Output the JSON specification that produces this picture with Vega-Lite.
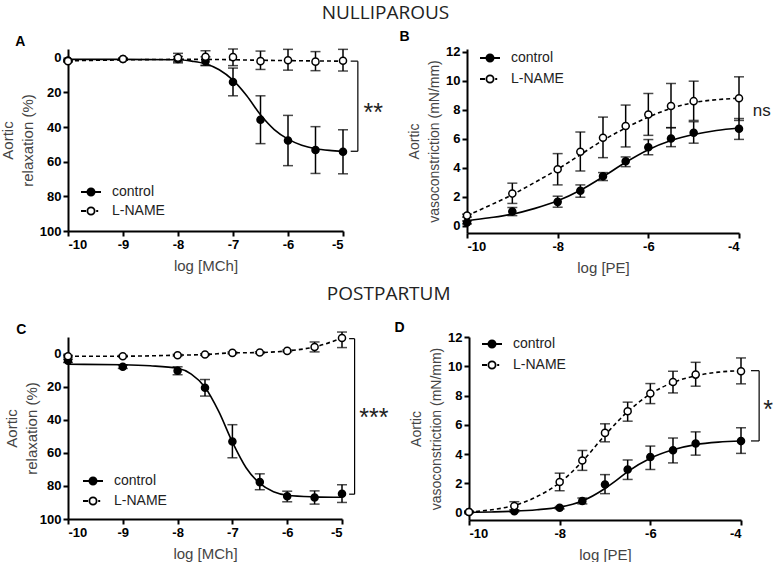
{
"$schema": "https://vega.github.io/schema/vega-lite/v6.json",
"background": "white",
"padding": {"left": 0, "top": 3, "right": 0, "bottom": 0},
"spacing": 10,
"resolve": {"scale": {"fill": "independent"}, "legend": {"fill": "independent"}},
"config": {
  "view": {"stroke": null},
  "font": "Liberation Sans",
  "axis": {"grid": false, "domainColor": "black", "domainWidth": 2, "tickColor": "black", "tickWidth": 2, "tickSize": 5, "labelFont": "Liberation Sans", "labelFontWeight": "bold", "labelFontSize": 13, "labelColor": "black", "labelPadding": 2, "titleFont": "Liberation Sans", "titleFontWeight": "normal", "titleFontSize": 15, "titleColor": "#444"},
  "axisX": {"titlePadding": 7},
  "axisY": {"titlePadding": 4, "titleLineHeight": 20}
},
"datasets": {
  "ptsA": [
    {"x": -10, "y": 1.7, "lo": 1.2, "hi": 2.2, "group": "control"},
    {"x": -9, "y": 0.8, "lo": 0.3, "hi": 1.3, "group": "control"},
    {"x": -8, "y": 0.8, "lo": -0.7, "hi": 2.3, "group": "control"},
    {"x": -7.5, "y": 2, "lo": -0.5, "hi": 4.5, "group": "control"},
    {"x": -7, "y": 14, "lo": 6, "hi": 22, "group": "control"},
    {"x": -6.5, "y": 35.8, "lo": 22, "hi": 49.6, "group": "control"},
    {"x": -6, "y": 47.8, "lo": 33.3, "hi": 62.3, "group": "control"},
    {"x": -5.5, "y": 53.3, "lo": 39.8, "hi": 66.8, "group": "control"},
    {"x": -5, "y": 54.3, "lo": 41.6, "hi": 67, "group": "control"},
    {"x": -10, "y": 2, "lo": 1.5, "hi": 2.5, "group": "L-NAME"},
    {"x": -9, "y": 0.8, "lo": 0.3, "hi": 1.3, "group": "L-NAME"},
    {"x": -8, "y": 0, "lo": -2.5, "hi": 3, "group": "L-NAME"},
    {"x": -7.5, "y": -0.5, "lo": -4, "hi": 4.5, "group": "L-NAME"},
    {"x": -7, "y": -0.3, "lo": -5, "hi": 4.6, "group": "L-NAME"},
    {"x": -6.5, "y": 2, "lo": -3.8, "hi": 6.8, "group": "L-NAME"},
    {"x": -6, "y": 1.5, "lo": -4.8, "hi": 7.2, "group": "L-NAME"},
    {"x": -5.5, "y": 2.3, "lo": -3.5, "hi": 7.5, "group": "L-NAME"},
    {"x": -5, "y": 1.8, "lo": -4.8, "hi": 7.7, "group": "L-NAME"}
  ],
  "fitA": [
    {"x": -10, "y": 1, "group": "control"},
    {"x": -9, "y": 1, "group": "control"},
    {"x": -8, "y": 1.2, "group": "control"},
    {"x": -7.75, "y": 2, "group": "control"},
    {"x": -7.5, "y": 3.5, "group": "control"},
    {"x": -7.25, "y": 7, "group": "control"},
    {"x": -7, "y": 13, "group": "control"},
    {"x": -6.75, "y": 22, "group": "control"},
    {"x": -6.5, "y": 33, "group": "control"},
    {"x": -6.25, "y": 41.5, "group": "control"},
    {"x": -6, "y": 47, "group": "control"},
    {"x": -5.75, "y": 50.5, "group": "control"},
    {"x": -5.5, "y": 52.5, "group": "control"},
    {"x": -5.25, "y": 53.5, "group": "control"},
    {"x": -5, "y": 54, "group": "control"},
    {"x": -10, "y": 1.8, "group": "L-NAME"},
    {"x": -9, "y": 1.3, "group": "L-NAME"},
    {"x": -8, "y": 1.0, "group": "L-NAME"},
    {"x": -7.5, "y": 1.0, "group": "L-NAME"},
    {"x": -7, "y": 1.2, "group": "L-NAME"},
    {"x": -6.5, "y": 1.5, "group": "L-NAME"},
    {"x": -6, "y": 1.7, "group": "L-NAME"},
    {"x": -5.5, "y": 1.9, "group": "L-NAME"},
    {"x": -5, "y": 2.0, "group": "L-NAME"}
  ],
  "brA": [
    {"x": -4.86, "x2": -4.73, "y": 2, "y2": 2},
    {"x": -4.73, "x2": -4.73, "y": 2, "y2": 54},
    {"x": -4.86, "x2": -4.73, "y": 54, "y2": 54}
  ],
  "txtA": [{"x": -4.45, "y": 32, "t": "**"}],
  "ptsB": [
    {"x": -10, "y": 0.23, "lo": 0.13, "hi": 0.33, "group": "control"},
    {"x": -9, "y": 0.98, "lo": 0.7, "hi": 1.26, "group": "control"},
    {"x": -8, "y": 1.65, "lo": 1.28, "hi": 2.04, "group": "control"},
    {"x": -7.5, "y": 2.42, "lo": 1.97, "hi": 2.82, "group": "control"},
    {"x": -7, "y": 3.42, "lo": 3.12, "hi": 3.67, "group": "control"},
    {"x": -6.5, "y": 4.45, "lo": 4.08, "hi": 4.75, "group": "control"},
    {"x": -6, "y": 5.42, "lo": 4.9, "hi": 5.95, "group": "control"},
    {"x": -5.5, "y": 6.02, "lo": 5.46, "hi": 6.77, "group": "control"},
    {"x": -5, "y": 6.42, "lo": 5.7, "hi": 7.18, "group": "control"},
    {"x": -4, "y": 6.7, "lo": 5.96, "hi": 7.4, "group": "control"},
    {"x": -10, "y": 0.7, "lo": 0.6, "hi": 0.8, "group": "L-NAME"},
    {"x": -9, "y": 2.22, "lo": 1.54, "hi": 2.94, "group": "L-NAME"},
    {"x": -8, "y": 3.9, "lo": 2.82, "hi": 4.98, "group": "L-NAME"},
    {"x": -7.5, "y": 5.11, "lo": 3.78, "hi": 6.47, "group": "L-NAME"},
    {"x": -7, "y": 6.08, "lo": 4.7, "hi": 7.5, "group": "L-NAME"},
    {"x": -6.5, "y": 6.88, "lo": 5.44, "hi": 8.33, "group": "L-NAME"},
    {"x": -6, "y": 7.68, "lo": 6.24, "hi": 9.13, "group": "L-NAME"},
    {"x": -5.5, "y": 8.26, "lo": 6.77, "hi": 9.82, "group": "L-NAME"},
    {"x": -5, "y": 8.6, "lo": 7.27, "hi": 9.98, "group": "L-NAME"},
    {"x": -4, "y": 8.8, "lo": 7.27, "hi": 10.28, "group": "L-NAME"}
  ],
  "fitB": [
    {"x": -10, "y": 0.35, "group": "control"},
    {"x": -9.5, "y": 0.55, "group": "control"},
    {"x": -9, "y": 0.8, "group": "control"},
    {"x": -8.5, "y": 1.2, "group": "control"},
    {"x": -8, "y": 1.72, "group": "control"},
    {"x": -7.5, "y": 2.45, "group": "control"},
    {"x": -7, "y": 3.38, "group": "control"},
    {"x": -6.5, "y": 4.38, "group": "control"},
    {"x": -6, "y": 5.25, "group": "control"},
    {"x": -5.5, "y": 5.88, "group": "control"},
    {"x": -5, "y": 6.3, "group": "control"},
    {"x": -4.5, "y": 6.58, "group": "control"},
    {"x": -4, "y": 6.75, "group": "control"},
    {"x": -10, "y": 0.7, "group": "L-NAME"},
    {"x": -9.5, "y": 1.4, "group": "L-NAME"},
    {"x": -9, "y": 2.15, "group": "L-NAME"},
    {"x": -8.5, "y": 3.0, "group": "L-NAME"},
    {"x": -8, "y": 3.9, "group": "L-NAME"},
    {"x": -7.5, "y": 4.9, "group": "L-NAME"},
    {"x": -7, "y": 5.9, "group": "L-NAME"},
    {"x": -6.5, "y": 6.75, "group": "L-NAME"},
    {"x": -6, "y": 7.5, "group": "L-NAME"},
    {"x": -5.5, "y": 8.1, "group": "L-NAME"},
    {"x": -5, "y": 8.5, "group": "L-NAME"},
    {"x": -4.5, "y": 8.7, "group": "L-NAME"},
    {"x": -4, "y": 8.8, "group": "L-NAME"}
  ],
  "txtB": [{"x": -3.5, "y": 7.9, "t": "ns"}],
  "ptsC": [
    {"x": -10, "y": 4.4, "lo": 3.4, "hi": 5.4, "group": "control"},
    {"x": -9, "y": 8, "lo": 7, "hi": 9, "group": "control"},
    {"x": -8, "y": 10.4, "lo": 8, "hi": 12.8, "group": "control"},
    {"x": -7.5, "y": 20.7, "lo": 15.7, "hi": 25.7, "group": "control"},
    {"x": -7, "y": 53.2, "lo": 43, "hi": 63, "group": "control"},
    {"x": -6.5, "y": 77.7, "lo": 72.7, "hi": 82.3, "group": "control"},
    {"x": -6, "y": 86.3, "lo": 83.2, "hi": 89.6, "group": "control"},
    {"x": -5.5, "y": 87, "lo": 83, "hi": 91, "group": "control"},
    {"x": -5, "y": 84.7, "lo": 79.3, "hi": 90, "group": "control"},
    {"x": -10, "y": 1.6, "lo": 1.1, "hi": 2.1, "group": "L-NAME"},
    {"x": -9, "y": 1.6, "lo": 1.1, "hi": 2.1, "group": "L-NAME"},
    {"x": -8, "y": 1.0, "lo": 0.5, "hi": 1.5, "group": "L-NAME"},
    {"x": -7.5, "y": 0.6, "lo": 0.1, "hi": 1.1, "group": "L-NAME"},
    {"x": -7, "y": -0.4, "lo": -0.9, "hi": 0.1, "group": "L-NAME"},
    {"x": -6.5, "y": -0.6, "lo": -1.1, "hi": -0.1, "group": "L-NAME"},
    {"x": -6, "y": -1.6, "lo": -2.1, "hi": -1.1, "group": "L-NAME"},
    {"x": -5.5, "y": -4, "lo": -7, "hi": -1, "group": "L-NAME"},
    {"x": -5, "y": -9.4, "lo": -13, "hi": -3.6, "group": "L-NAME"}
  ],
  "fitC": [
    {"x": -10, "y": 6.5, "group": "control"},
    {"x": -9, "y": 6.8, "group": "control"},
    {"x": -8.5, "y": 7.4, "group": "control"},
    {"x": -8, "y": 8.9, "group": "control"},
    {"x": -7.75, "y": 12.4, "group": "control"},
    {"x": -7.5, "y": 20.4, "group": "control"},
    {"x": -7.25, "y": 35, "group": "control"},
    {"x": -7, "y": 53.5, "group": "control"},
    {"x": -6.75, "y": 69, "group": "control"},
    {"x": -6.5, "y": 78.5, "group": "control"},
    {"x": -6.25, "y": 83.5, "group": "control"},
    {"x": -6, "y": 85.6, "group": "control"},
    {"x": -5.5, "y": 86.6, "group": "control"},
    {"x": -5, "y": 86.9, "group": "control"},
    {"x": -10, "y": 1.6, "group": "L-NAME"},
    {"x": -9, "y": 1.6, "group": "L-NAME"},
    {"x": -8, "y": 1.0, "group": "L-NAME"},
    {"x": -7.5, "y": 0.6, "group": "L-NAME"},
    {"x": -7, "y": -0.4, "group": "L-NAME"},
    {"x": -6.5, "y": -0.6, "group": "L-NAME"},
    {"x": -6, "y": -1.6, "group": "L-NAME"},
    {"x": -5.5, "y": -4, "group": "L-NAME"},
    {"x": -5, "y": -9.4, "group": "L-NAME"}
  ],
  "brC": [
    {"x": -4.87, "x2": -4.77, "y": -9, "y2": -9},
    {"x": -4.77, "x2": -4.77, "y": -9, "y2": 85},
    {"x": -4.87, "x2": -4.77, "y": 85, "y2": 85}
  ],
  "txtC": [{"x": -4.42, "y": 39, "t": "***"}],
  "ptsD": [
    {"x": -10, "y": 0.05, "lo": 0.0, "hi": 0.1, "group": "control"},
    {"x": -9, "y": 0.1, "lo": 0.05, "hi": 0.15, "group": "control"},
    {"x": -8, "y": 0.34, "lo": 0.26, "hi": 0.42, "group": "control"},
    {"x": -7.5, "y": 0.8, "lo": 0.6, "hi": 1.0, "group": "control"},
    {"x": -7, "y": 1.93, "lo": 1.3, "hi": 2.6, "group": "control"},
    {"x": -6.5, "y": 2.95, "lo": 2.27, "hi": 3.6, "group": "control"},
    {"x": -6, "y": 3.8, "lo": 2.95, "hi": 4.55, "group": "control"},
    {"x": -5.5, "y": 4.27, "lo": 3.4, "hi": 5.1, "group": "control"},
    {"x": -5, "y": 4.73, "lo": 3.93, "hi": 5.52, "group": "control"},
    {"x": -4, "y": 4.89, "lo": 4.05, "hi": 5.8, "group": "control"},
    {"x": -10, "y": 0.05, "lo": 0.0, "hi": 0.1, "group": "L-NAME"},
    {"x": -9, "y": 0.45, "lo": 0.2, "hi": 0.75, "group": "L-NAME"},
    {"x": -8, "y": 2.09, "lo": 1.5, "hi": 2.7, "group": "L-NAME"},
    {"x": -7.5, "y": 3.57, "lo": 2.89, "hi": 4.25, "group": "L-NAME"},
    {"x": -7, "y": 5.45, "lo": 4.84, "hi": 6.07, "group": "L-NAME"},
    {"x": -6.5, "y": 6.93, "lo": 6.25, "hi": 7.55, "group": "L-NAME"},
    {"x": -6, "y": 8.14, "lo": 7.45, "hi": 8.82, "group": "L-NAME"},
    {"x": -5.5, "y": 8.93, "lo": 8.18, "hi": 9.66, "group": "L-NAME"},
    {"x": -5, "y": 9.43, "lo": 8.64, "hi": 10.27, "group": "L-NAME"},
    {"x": -4, "y": 9.66, "lo": 8.8, "hi": 10.57, "group": "L-NAME"}
  ],
  "fitD": [
    {"x": -10, "y": 0.02, "group": "control"},
    {"x": -9.5, "y": 0.05, "group": "control"},
    {"x": -9, "y": 0.1, "group": "control"},
    {"x": -8.5, "y": 0.2, "group": "control"},
    {"x": -8, "y": 0.38, "group": "control"},
    {"x": -7.5, "y": 0.8, "group": "control"},
    {"x": -7, "y": 1.65, "group": "control"},
    {"x": -6.75, "y": 2.2, "group": "control"},
    {"x": -6.5, "y": 2.8, "group": "control"},
    {"x": -6, "y": 3.72, "group": "control"},
    {"x": -5.5, "y": 4.3, "group": "control"},
    {"x": -5, "y": 4.65, "group": "control"},
    {"x": -4.5, "y": 4.82, "group": "control"},
    {"x": -4, "y": 4.9, "group": "control"},
    {"x": -10, "y": 0.05, "group": "L-NAME"},
    {"x": -9.5, "y": 0.2, "group": "L-NAME"},
    {"x": -9, "y": 0.5, "group": "L-NAME"},
    {"x": -8.5, "y": 1.1, "group": "L-NAME"},
    {"x": -8, "y": 2.05, "group": "L-NAME"},
    {"x": -7.5, "y": 3.5, "group": "L-NAME"},
    {"x": -7, "y": 5.3, "group": "L-NAME"},
    {"x": -6.5, "y": 6.9, "group": "L-NAME"},
    {"x": -6, "y": 8.1, "group": "L-NAME"},
    {"x": -5.5, "y": 8.9, "group": "L-NAME"},
    {"x": -5, "y": 9.35, "group": "L-NAME"},
    {"x": -4.5, "y": 9.6, "group": "L-NAME"},
    {"x": -4, "y": 9.7, "group": "L-NAME"}
  ],
  "brD": [
    {"x": -3.78, "x2": -3.6, "y": 9.7, "y2": 9.7},
    {"x": -3.6, "x2": -3.6, "y": 9.7, "y2": 4.9},
    {"x": -3.78, "x2": -3.6, "y": 4.9, "y2": 4.9}
  ],
  "txtD": [{"x": -3.4, "y": 7.0, "t": "*"}]
},
"vconcat": [
  {
    "title": {"text": "NULLIPAROUS", "font": "Open Sans", "fontSize": 19, "fontWeight": "normal", "color": "#222", "anchor": "middle", "offset": 7},
    "spacing": 16,
    "resolve": {"scale": {"fill": "independent"}, "legend": {"fill": "independent"}},
    "hconcat": [
      {
        "title": {"text": "A", "anchor": "start", "frame": "bounds", "fontSize": 14, "fontWeight": "bold", "font": "Liberation Sans", "color": "black", "offset": 2, "dx": 15, "dy": 3},
        "width": 275, "height": 182,
        "encoding": {
          "x": {"field": "x", "type": "quantitative", "scale": {"domain": [-10, -5], "nice": false, "zero": false}, "axis": {"values": [-10, -9, -8, -7, -6, -5], "title": "log [MCh]", "labelExpr": "datum.value + ''"}},
          "y": {"field": "y", "type": "quantitative", "scale": {"domain": [-5, 100], "reverse": true, "nice": false, "zero": false}, "axis": {"values": [0, 20, 40, 60, 80, 100], "title": ["Aortic", "relaxation (%)"], "labelExpr": "datum.value + ''"}}
        },
        "layer": [
          {"data": {"name": "ptsA"}, "mark": {"type": "rule", "color": "black", "strokeWidth": 1.5}, "encoding": {"y": {"field": "lo", "type": "quantitative"}, "y2": {"field": "hi"}}},
          {"data": {"name": "ptsA"}, "mark": {"type": "tick", "orient": "horizontal", "color": "black", "size": 10, "thickness": 1.5}, "encoding": {"y": {"field": "lo", "type": "quantitative"}}},
          {"data": {"name": "ptsA"}, "mark": {"type": "tick", "orient": "horizontal", "color": "black", "size": 10, "thickness": 1.5}, "encoding": {"y": {"field": "hi", "type": "quantitative"}}},
          {"data": {"name": "fitA"}, "transform": [{"filter": "datum.group == 'control'"}], "mark": {"type": "line", "color": "black", "strokeWidth": 1.6, "interpolate": "monotone"}, "encoding": {}},
          {"data": {"name": "fitA"}, "transform": [{"filter": "datum.group == 'L-NAME'"}], "mark": {"type": "line", "color": "black", "strokeWidth": 1.6, "strokeDash": [4, 3], "interpolate": "monotone"}, "encoding": {}},
          {"data": {"name": "ptsA"}, "mark": {"type": "point", "filled": true, "stroke": "black", "strokeWidth": 1.5, "size": 50, "opacity": 1}, "encoding": {"fill": {"field": "group", "type": "nominal", "scale": {"domain": ["control", "L-NAME"], "range": ["black", "white"]}, "legend": {"orient": "none", "legendX": 12, "legendY": 132, "title": null, "symbolSize": 400, "symbolStrokeColor": "black", "symbolStrokeWidth": 1.8, "symbolType": {"expr": "datum.value === 'control' ? 'M-1,0H1M-0.36,0A0.36,0.36 0 1,0 0.36,0A0.36,0.36 0 1,0 -0.36,0Z' : 'M-1,0H-0.5M0.52,0H0.72M-0.36,0A0.36,0.36 0 1,0 0.36,0A0.36,0.36 0 1,0 -0.36,0Z'"}, "labelFont": "Liberation Sans", "labelFontSize": 14, "labelColor": "#222", "labelOffset": 10, "rowPadding": 0, "padding": 0}}}},
          {"data": {"name": "brA"}, "mark": {"type": "rule", "color": "black", "strokeWidth": 1.2}, "encoding": {"x2": {"field": "x2"}, "y2": {"field": "y2"}}},
          {"data": {"name": "txtA"}, "mark": {"type": "text", "fontSize": 25, "font": "Liberation Sans", "align": "center", "baseline": "middle", "color": "#222"}, "encoding": {"text": {"field": "t"}}}
        ]
      },
      {
        "title": {"text": "B", "anchor": "start", "frame": "bounds", "fontSize": 14, "fontWeight": "bold", "font": "Liberation Sans", "color": "black", "offset": 2, "dx": -8},
        "width": 272, "height": 184,
        "encoding": {
          "x": {"field": "x", "type": "quantitative", "scale": {"domain": [-10, -4], "nice": false, "zero": false}, "axis": {"values": [-10, -8, -6, -4], "title": "log [PE]", "labelExpr": "datum.value + ''"}},
          "y": {"field": "y", "type": "quantitative", "scale": {"domain": [-0.5, 12.2], "nice": false, "zero": false}, "axis": {"values": [0, 2, 4, 6, 8, 10, 12], "title": ["Aortic", "vasoconstriction (mN/mm)"], "titleFontSize": 14, "labelExpr": "datum.value + ''"}}
        },
        "layer": [
          {"data": {"name": "ptsB"}, "mark": {"type": "rule", "color": "black", "strokeWidth": 1.5}, "encoding": {"y": {"field": "lo", "type": "quantitative"}, "y2": {"field": "hi"}}},
          {"data": {"name": "ptsB"}, "mark": {"type": "tick", "orient": "horizontal", "color": "black", "size": 10, "thickness": 1.5}, "encoding": {"y": {"field": "lo", "type": "quantitative"}}},
          {"data": {"name": "ptsB"}, "mark": {"type": "tick", "orient": "horizontal", "color": "black", "size": 10, "thickness": 1.5}, "encoding": {"y": {"field": "hi", "type": "quantitative"}}},
          {"data": {"name": "fitB"}, "transform": [{"filter": "datum.group == 'control'"}], "mark": {"type": "line", "color": "black", "strokeWidth": 1.6, "interpolate": "monotone"}, "encoding": {}},
          {"data": {"name": "fitB"}, "transform": [{"filter": "datum.group == 'L-NAME'"}], "mark": {"type": "line", "color": "black", "strokeWidth": 1.6, "strokeDash": [4, 3], "interpolate": "monotone"}, "encoding": {}},
          {"data": {"name": "ptsB"}, "mark": {"type": "point", "filled": true, "stroke": "black", "strokeWidth": 1.5, "size": 50, "opacity": 1}, "encoding": {"fill": {"field": "group", "type": "nominal", "scale": {"domain": ["control", "L-NAME"], "range": ["black", "white"]}, "legend": {"orient": "none", "legendX": 12, "legendY": -2, "title": null, "symbolSize": 400, "symbolStrokeColor": "black", "symbolStrokeWidth": 1.8, "symbolType": {"expr": "datum.value === 'control' ? 'M-1,0H1M-0.36,0A0.36,0.36 0 1,0 0.36,0A0.36,0.36 0 1,0 -0.36,0Z' : 'M-1,0H-0.5M0.52,0H0.72M-0.36,0A0.36,0.36 0 1,0 0.36,0A0.36,0.36 0 1,0 -0.36,0Z'"}, "labelFont": "Liberation Sans", "labelFontSize": 14, "labelColor": "#222", "labelOffset": 10, "rowPadding": 2, "padding": 0}}}},
          {"data": {"name": "txtB"}, "mark": {"type": "text", "fontSize": 17, "font": "Liberation Sans", "align": "center", "baseline": "middle", "color": "#222"}, "encoding": {"text": {"field": "t"}}}
        ]
      }
    ]
  },
  {
    "title": {"text": "POSTPARTUM", "font": "Open Sans", "fontSize": 19, "fontWeight": "normal", "color": "#222", "anchor": "middle", "offset": 17},
    "spacing": 5,
    "resolve": {"scale": {"fill": "independent"}, "legend": {"fill": "independent"}},
    "hconcat": [
      {
        "title": {"text": "C", "anchor": "start", "frame": "bounds", "fontSize": 14, "fontWeight": "bold", "font": "Liberation Sans", "color": "black", "offset": 2, "dx": 12, "dy": 8},
        "width": 274, "height": 182,
        "encoding": {
          "x": {"field": "x", "type": "quantitative", "scale": {"domain": [-10, -5], "nice": false, "zero": false}, "axis": {"values": [-10, -9, -8, -7, -6, -5], "title": "log [MCh]", "labelExpr": "datum.value + ''"}},
          "y": {"field": "y", "type": "quantitative", "scale": {"domain": [-10, 100], "reverse": true, "nice": false, "zero": false}, "axis": {"values": [0, 20, 40, 60, 80, 100], "title": ["Aortic", "relaxation (%)"], "titlePadding": 0, "labelExpr": "datum.value + ''"}}
        },
        "layer": [
          {"data": {"name": "ptsC"}, "mark": {"type": "rule", "color": "black", "strokeWidth": 1.5}, "encoding": {"y": {"field": "lo", "type": "quantitative"}, "y2": {"field": "hi"}}},
          {"data": {"name": "ptsC"}, "mark": {"type": "tick", "orient": "horizontal", "color": "black", "size": 10, "thickness": 1.5}, "encoding": {"y": {"field": "lo", "type": "quantitative"}}},
          {"data": {"name": "ptsC"}, "mark": {"type": "tick", "orient": "horizontal", "color": "black", "size": 10, "thickness": 1.5}, "encoding": {"y": {"field": "hi", "type": "quantitative"}}},
          {"data": {"name": "fitC"}, "transform": [{"filter": "datum.group == 'control'"}], "mark": {"type": "line", "color": "black", "strokeWidth": 1.6, "interpolate": "monotone"}, "encoding": {}},
          {"data": {"name": "fitC"}, "transform": [{"filter": "datum.group == 'L-NAME'"}], "mark": {"type": "line", "color": "black", "strokeWidth": 1.6, "strokeDash": [4, 3], "interpolate": "monotone"}, "encoding": {}},
          {"data": {"name": "ptsC"}, "mark": {"type": "point", "filled": true, "stroke": "black", "strokeWidth": 1.5, "size": 50, "opacity": 1}, "encoding": {"fill": {"field": "group", "type": "nominal", "scale": {"domain": ["control", "L-NAME"], "range": ["black", "white"]}, "legend": {"orient": "none", "legendX": 14, "legendY": 133, "title": null, "symbolSize": 400, "symbolStrokeColor": "black", "symbolStrokeWidth": 1.8, "symbolType": {"expr": "datum.value === 'control' ? 'M-1,0H1M-0.36,0A0.36,0.36 0 1,0 0.36,0A0.36,0.36 0 1,0 -0.36,0Z' : 'M-1,0H-0.5M0.52,0H0.72M-0.36,0A0.36,0.36 0 1,0 0.36,0A0.36,0.36 0 1,0 -0.36,0Z'"}, "labelFont": "Liberation Sans", "labelFontSize": 14, "labelColor": "#222", "labelOffset": 10, "rowPadding": 1, "padding": 0}}}},
          {"data": {"name": "brC"}, "mark": {"type": "rule", "color": "black", "strokeWidth": 1.2}, "encoding": {"x2": {"field": "x2"}, "y2": {"field": "y2"}}},
          {"data": {"name": "txtC"}, "mark": {"type": "text", "fontSize": 25, "font": "Liberation Sans", "align": "center", "baseline": "middle", "color": "#222"}, "encoding": {"text": {"field": "t"}}}
        ]
      },
      {
        "title": {"text": "D", "anchor": "start", "frame": "bounds", "fontSize": 14, "fontWeight": "bold", "font": "Liberation Sans", "color": "black", "offset": 2, "dx": -15, "dy": 6},
        "width": 272, "height": 183,
        "encoding": {
          "x": {"field": "x", "type": "quantitative", "scale": {"domain": [-10, -4], "nice": false, "zero": false}, "axis": {"values": [-10, -8, -6, -4], "title": "log [PE]", "labelExpr": "datum.value + ''"}},
          "y": {"field": "y", "type": "quantitative", "scale": {"domain": [-0.5, 12], "nice": false, "zero": false}, "axis": {"values": [0, 2, 4, 6, 8, 10, 12], "title": ["Aortic", "vasoconstriction (mN/mm)"], "titleFontSize": 14, "labelExpr": "datum.value + ''"}}
        },
        "layer": [
          {"data": {"name": "ptsD"}, "mark": {"type": "rule", "color": "black", "strokeWidth": 1.5}, "encoding": {"y": {"field": "lo", "type": "quantitative"}, "y2": {"field": "hi"}}},
          {"data": {"name": "ptsD"}, "mark": {"type": "tick", "orient": "horizontal", "color": "black", "size": 10, "thickness": 1.5}, "encoding": {"y": {"field": "lo", "type": "quantitative"}}},
          {"data": {"name": "ptsD"}, "mark": {"type": "tick", "orient": "horizontal", "color": "black", "size": 10, "thickness": 1.5}, "encoding": {"y": {"field": "hi", "type": "quantitative"}}},
          {"data": {"name": "fitD"}, "transform": [{"filter": "datum.group == 'control'"}], "mark": {"type": "line", "color": "black", "strokeWidth": 1.6, "interpolate": "monotone"}, "encoding": {}},
          {"data": {"name": "fitD"}, "transform": [{"filter": "datum.group == 'L-NAME'"}], "mark": {"type": "line", "color": "black", "strokeWidth": 1.6, "strokeDash": [4, 3], "interpolate": "monotone"}, "encoding": {}},
          {"data": {"name": "ptsD"}, "mark": {"type": "point", "filled": true, "stroke": "black", "strokeWidth": 1.5, "size": 50, "opacity": 1}, "encoding": {"fill": {"field": "group", "type": "nominal", "scale": {"domain": ["control", "L-NAME"], "range": ["black", "white"]}, "legend": {"orient": "none", "legendX": 12, "legendY": -4, "title": null, "symbolSize": 400, "symbolStrokeColor": "black", "symbolStrokeWidth": 1.8, "symbolType": {"expr": "datum.value === 'control' ? 'M-1,0H1M-0.36,0A0.36,0.36 0 1,0 0.36,0A0.36,0.36 0 1,0 -0.36,0Z' : 'M-1,0H-0.5M0.52,0H0.72M-0.36,0A0.36,0.36 0 1,0 0.36,0A0.36,0.36 0 1,0 -0.36,0Z'"}, "labelFont": "Liberation Sans", "labelFontSize": 14, "labelColor": "#222", "labelOffset": 10, "rowPadding": 2, "padding": 0}}}},
          {"data": {"name": "brD"}, "mark": {"type": "rule", "color": "black", "strokeWidth": 1.2}, "encoding": {"x2": {"field": "x2"}, "y2": {"field": "y2"}}},
          {"data": {"name": "txtD"}, "mark": {"type": "text", "fontSize": 25, "font": "Liberation Sans", "align": "center", "baseline": "middle", "color": "#222"}, "encoding": {"text": {"field": "t"}}}
        ]
      }
    ]
  }
]
}
